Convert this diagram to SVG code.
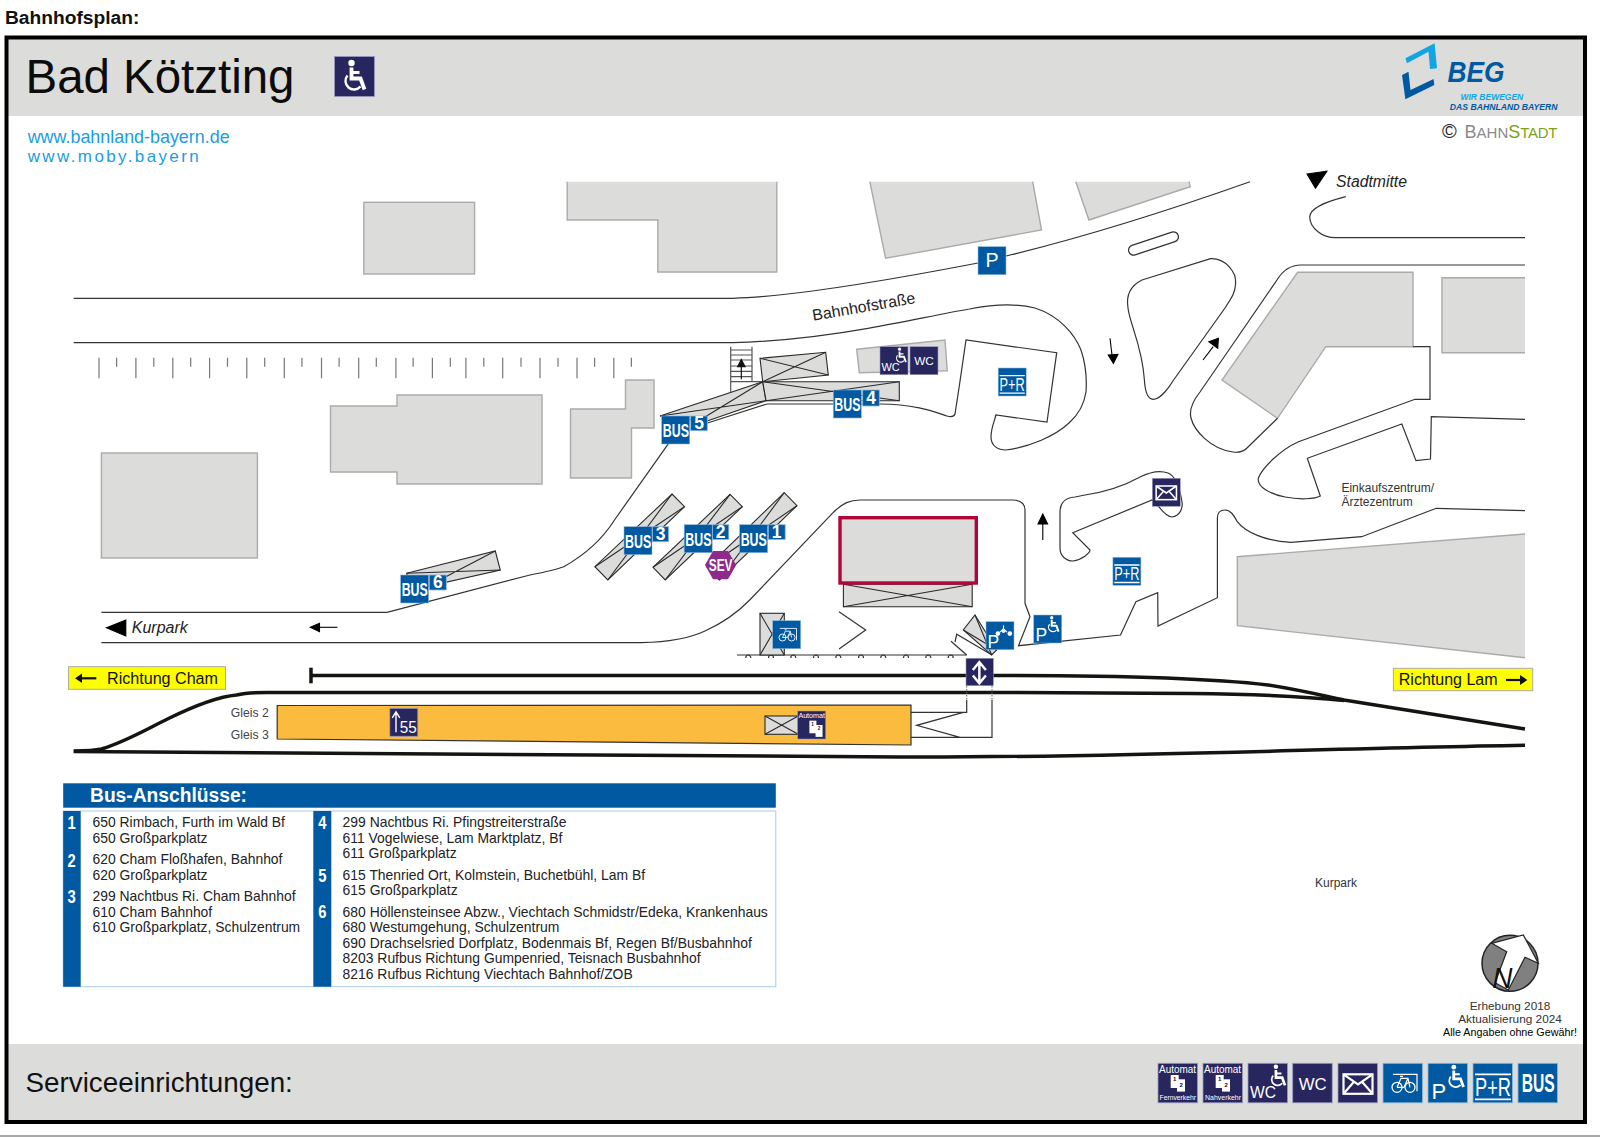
<svg xmlns="http://www.w3.org/2000/svg" width="1600" height="1139" viewBox="0 0 1600 1139">
<style>
text{font-family:"Liberation Sans",Arial,sans-serif}
.bld{fill:#dcdcdb;stroke:#aaa;stroke-width:1.4}
.shel{fill:#dcdcdb;stroke:#2a2a2a;stroke-width:1.1}
.rd{fill:none;stroke:#333;stroke-width:1.2}
.trk{fill:none;stroke:#141410;stroke-width:3.5}
.navy{fill:#28265f;stroke:#9a9ac0;stroke-width:.8}
.blue{fill:#0059a1;stroke:#8fb8dc;stroke-width:.8}
.w{fill:#fff}
.wl{fill:none;stroke:#fff}
.bus{fill:#fff;font-weight:700;font-size:27px}
.num{fill:#fff;font-weight:700;font-size:17.500px;text-anchor:middle}
.tb{fill:#222;font-size:13.900px}
.tn{fill:#fff;font-weight:700;font-size:18.500px}
.it{font-style:italic;font-size:16px;fill:#222}
.dir{fill:#111;font-size:16px}
.g{fill:#444;font-size:12.200px}
.yl{fill:#ffff00;stroke:#aaa;stroke-width:1}
.small{fill:#333;font-size:11.800px;text-anchor:middle}
</style>
<defs>
<symbol id="chair" viewBox="0 0 40 40">
<circle cx="17" cy="6.500" r="3.200" fill="#fff"/>
<path d="M17 11V22H26L30 33" fill="none" stroke="#fff" stroke-width="3.800"/>
<path d="M17 16H25" fill="none" stroke="#fff" stroke-width="2.800"/>
<path d="M13 19A8.500 8.500 0 1 0 26 30" fill="none" stroke="#fff" stroke-width="2.400"/>
</symbol>
<symbol id="bike" viewBox="0 0 40 40">
<path d="M10 11H34V28M14 24L18 15H25L27 24M14 24H21L25 15M17 13H20" fill="none" stroke="#fff" stroke-width="1.200"/>
<circle cx="14" cy="24" r="5" fill="none" stroke="#fff" stroke-width="1.300"/>
<circle cx="27" cy="24" r="5" fill="none" stroke="#fff" stroke-width="1.300"/>
</symbol>
<symbol id="mail" viewBox="0 0 40 40">
<rect x="5.500" y="11" width="29" height="19.500" fill="none" stroke="#fff" stroke-width="2.200"/>
<path d="M5.500 11L20 21L34.500 11M5.500 30.500L16 18.500M34.500 30.500L24 18.500" fill="none" stroke="#fff" stroke-width="2.200"/>
</symbol>
</defs>

<rect id="bg" width="1600" height="1139" fill="#fff"/>
<text x="5" y="23.500" font-size="19.200" font-weight="700" fill="#111">Bahnhofsplan:</text>

<g id="panel">
<rect x="8" y="39" width="1575" height="77" fill="#dcdcdb"/>
<rect x="8" y="1044" width="1575" height="77" fill="#dcdcdb"/>
<rect x="6.500" y="37.500" width="1578.500" height="1084.500" fill="none" stroke="#000" stroke-width="4"/>
<path d="M0 1136H1600" stroke="#a8a8a8" stroke-width="2"/>
</g>

<g id="title">
<text x="25.500" y="92.500" font-size="47.500" fill="#0c0c0c" textLength="269" lengthAdjust="spacingAndGlyphs">Bad Kötzting</text>
<g id="icon-access" transform="translate(334.500,56.500)"><rect width="40" height="40" class="navy"/><use href="#chair" width="40" height="40"/></g>
<text x="27.700" y="142.700" font-size="17.900" fill="#1b9de2">www.bahnland-bayern.de</text>
<text x="27.700" y="162" font-size="17" fill="#1b9de2" textLength="171" lengthAdjust="spacing">www.moby.bayern</text>
</g>

<g id="beg-logo">
<polygon points="1405.400,58.300 1434.600,43.300 1437,68.300 1430,69 1428.500,51.700 1407,63.300" fill="#12a5e4"/>
<polygon points="1402,75 1408.500,71.700 1410.500,90 1433.600,79 1434.300,85 1405.400,99.300" fill="#0059a1"/>
<text x="1447.400" y="81.700" font-size="29" font-weight="700" font-style="italic" fill="#0059a1" textLength="57" lengthAdjust="spacingAndGlyphs">BEG</text>
<text x="1460.500" y="100" font-size="8.500" font-weight="700" font-style="italic" fill="#12a5e4" textLength="62.700" lengthAdjust="spacingAndGlyphs">WIR BEWEGEN</text>
<text x="1449.800" y="110" font-size="8.500" font-weight="700" font-style="italic" fill="#0059a1" textLength="107.800" lengthAdjust="spacingAndGlyphs">DAS BAHNLAND BAYERN</text>
<text x="1442" y="138" font-size="20" fill="#222">©</text>
<text x="1464.600" y="137.500" fill="#8a8a8a" font-size="18">B<tspan font-size="15">AHN</tspan><tspan fill="#7ba11e">S</tspan><tspan fill="#7ba11e" font-size="15" letter-spacing="-.3">TADT</tspan></text>
</g>

<g id="buildings">
<rect class="bld" x="363.800" y="202.300" width="110.800" height="71.700"/>
<path class="bld" d="M567.200 181.700V220H657.800V272H776.800V181.700"/>
<path class="bld" d="M869.800 181.700L885.600 258.300L1041.500 230L1032.700 181.700"/>
<path class="bld" d="M1075.800 181.700L1088.900 220L1190.200 186.700L1189.100 181.700"/>
<polygon class="bld" points="1297.600,272.300 1413,272.300 1413,346.700 1325.800,346.700 1277.500,418.300 1222,380"/>
<path class="bld" d="M1525 277.700H1442V352.700H1525"/>
<path class="bld" d="M1525 534L1237.300 556.700V625.700L1525 657.700"/>
<polygon class="bld" points="330.500,406 397,406 397,395 542,395 542,484 397,484 397,472 330.500,472"/>
<polygon class="bld" points="570.500,409 625.500,409 625.500,380 654,380 654,428 631.500,428 631.500,478 570.500,478"/>
<rect class="bld" x="101.400" y="453" width="156" height="105"/>
<polygon class="bld" points="856.700,349.300 945,340 947.300,370.700 859.300,372.700"/>
</g>

<g id="ticks" fill="none" stroke="#777" stroke-width="1.200">
<path d="M99 357.700V378.300M135.900 357.700V378.300M172.800 357.700V378.300M209.600 357.700V378.300M246.800 357.700V378.300M284.300 357.700V378.300M321.500 357.700V378.300M358.700 357.700V378.300M395.900 357.700V378.300M432.400 357.700V378.300M465.900 357.700V378.300M502.700 357.700V378.300M540 357.700V378.300M577 357.700V378.300M613.800 357.700V378.300"/>
<path d="M116.600 357.700V366.700M153.800 357.700V366.700M190.700 357.700V366.700M227.500 357.700V366.700M264.700 357.700V366.700M301.900 357.700V366.700M339.100 357.700V366.700M376.300 357.700V366.700M413.100 357.700V366.700M450.300 357.700V366.700M483.800 357.700V366.700M521 357.700V366.700M558 357.700V366.700M594.600 357.700V366.700M631.400 357.700V366.700"/>
</g>

<g id="connectors">
<path class="rd" d="M73.700 298.300H733C790 297 900 278 978 263L1006 256C1060 243 1150 217 1250 181.700"/>
<path class="rd" d="M73.700 342.700H733C790 341 830 335 868 328.300C905 322 940 314 969.500 309C990 305 1015 303 1035 308C1060 316 1075 335 1081 350C1086 365 1087 378 1086 392C1084 405 1078 415 1069 423C1055 436 1030 447 1006 450C998 450 991 446 991 437C991 428 994 423 995.900 415L1047 422L1056.700 352.700L966 340L959.300 386L955 414C954 417 951 417 947 416C935 412 915 404 880 404H767L706.700 423.300"/>
<path class="rd" d="M668.600 443.300L614.500 520C605 535 590 552 563.800 566.700C555 570 540 573 530 575L387 612.300H101.400"/>
<path class="rd" d="M101.400 642.700H641.600C670 642 690 638 705 631C725 622 738 612 749.700 600L834 511.700C843 503 850 500 860 500H1012C1020 500 1025 503 1025 510V603.300L1030 616.700L1018.500 645.700L1120.500 635L1135.900 601.700L1157.700 592.700L1158 626L1217.400 597.700V518C1217.400 512 1220 510 1225 510C1231 510 1234 516 1237.300 521.700C1245 532 1265 541 1290.900 542.300L1361.700 536.700L1436.300 508.300L1525 510.700"/>
<path class="rd" d="M1525 265H1301C1290 265 1283 270 1277 280L1200 392C1192 402 1189 410 1191 418C1194 430 1210 449 1233 452C1240 453 1244 451 1247 448L1277.500 418.300"/>
<path class="rd" d="M1413 346.700H1430V399.300H1415L1298.500 441.700C1280 450 1262 468 1258.300 478.300C1257 487 1270 494 1285 497C1300 500 1315 499 1320.300 496L1307.300 458.300L1401.800 424L1416 460.700L1430.500 459L1431.300 416.700L1525 419.300"/>
<path class="rd" d="M1210.500 258.700C1225 258 1237 272 1235.600 284C1235 293 1232 297 1225 308L1173.600 380C1166 392 1160 399 1153 399.300C1147 399 1145 390 1144.400 380C1142 345 1130 325 1128 308C1126 296 1130 286 1142 280Z"/>
<rect class="rd" x="1127.500" y="238.500" width="52" height="10" rx="5" transform="rotate(-18.400 1153.500 243.500)"/>
<path class="rd" d="M1345.800 196.700C1325 202 1310 208 1309.700 217C1310 228 1322 237.700 1335.500 237.700H1525"/>
<path class="rd" d="M1072.700 532.700L1152 500L1158.800 506.700C1163 512 1168 517 1172 517C1180 516 1183 508 1182 502C1180 490 1176 476 1168 473C1160 470 1150 472 1140 477C1122 487 1105 492 1085 495L1075 497C1064 498 1060 503 1060 512V548C1060 556 1066 561 1073 561C1082 560 1090 553 1090 550Z"/>
<path class="rd" d="M737 655H966.700M839 611.700L865.700 630L839 649"/>
<path class="rd" d="M745.800 658A2.500 3 0 0 1 750.800 658M768.500 658A2.500 3 0 0 1 773.500 658M790.800 658A2.500 3 0 0 1 795.800 658M813.500 658A2.500 3 0 0 1 818.500 658M835.800 658A2.500 3 0 0 1 840.800 658M858.500 658A2.500 3 0 0 1 863.500 658M880.800 658A2.500 3 0 0 1 885.800 658M903.500 658A2.500 3 0 0 1 908.500 658M925.800 658A2.500 3 0 0 1 930.800 658M948.200 658A2.500 3 0 0 1 953.200 658"/>
<path class="rd" d="M951 641.300L966.700 655M955 642L956.700 634.300L992 655"/>
<path class="trk" d="M311 675.500H1000C1100 675.500 1200 677 1268 685C1300 690 1320 695 1344 700L1525 729"/>
<path class="trk" d="M73.700 751C85 751 95 750.500 101.400 749C125 742 145 730 169 718.300C190 708 215 697 236.600 695C245 693 255 692.500 267 692.500H1000L1191 693.500C1240 694 1300 696 1344 700.500"/>
<path class="trk" d="M73.700 751.500C300 751.500 600 755 900 757C1100 758 1300 749 1525 745.300"/>
<path d="M311 667.700V683.300" fill="none" stroke="#141410" stroke-width="3.500"/>
<path d="M966.700 686V700M992 686V700" fill="none" stroke="#666" stroke-width="1" stroke-dasharray="1.500 1.500"/>
<path class="rd" d="M910.700 712.300H966.700V700M992 700V737.300H910.700M963.300 712.300L916.700 725.300L960 737.300"/>
</g>

<g id="arrows" fill="#000" stroke="#000" stroke-width="1.100">
<path d="M1110 338.300L1112 355" fill="none"/><polygon points="1108.200,355 1117.900,354.300 1113.400,363.300"/>
<path d="M1203 360L1213.200 346.700" fill="none"/><polygon points="1208.800,341.700 1218.400,338.300 1217.700,348.300"/>
<path d="M1042.800 540V524" fill="none"/><polygon points="1038,524 1047.600,524 1042.800,514"/>
<path d="M337.400 627.300H319.500" fill="none"/><polygon points="310.300,627.300 319.500,623.300 319.500,631.700"/>
<polygon points="1307,174 1326.900,171.300 1315.500,188.300"/>
<polygon points="106.500,627.700 125.800,620 125.800,636"/>
</g>

<text x="1336" y="186.700" class="it" textLength="71" lengthAdjust="spacingAndGlyphs">Stadtmitte</text>
<text x="131.800" y="633.300" class="it" textLength="56" lengthAdjust="spacingAndGlyphs">Kurpark</text>
<text x="813.300" y="320.700" font-size="15.900" fill="#222" transform="rotate(-9.700 813.300 320.700)">Bahnhofstraße</text>
<text x="1341.400" y="492" font-size="12" fill="#333">Einkaufszentrum/</text>
<text x="1341.400" y="506" font-size="12" fill="#333">Ärztezentrum</text>
<text x="1315" y="887" font-size="12" fill="#333">Kurpark</text>

<g id="shelters">
<g id="stairs"><path d="M730.700 346.700V391.700M752 346.700V381.700H762.700M731 350H752M731 355H752M731 360H752M731 366H752M731 371.300H752M731 376.700H752M731 381.700H752" fill="none" stroke="#555" stroke-width="1.200"/><polygon points="741.300,358.300 746,367.300 736.700,367.300" fill="#111"/><path d="M741.300 367V379.300" stroke="#111" stroke-width="1.200"/></g>
<g id="shelter-top"><polygon class="shel" points="760,358.300 825.700,352.300 828.300,375 762.700,381.700"/><path class="shel" d="M760 358.300L828.300 375M825.700 352.300L762.700 381.700"/></g>
<g id="shelter-5"><polygon class="shel" points="660,416 762.700,381.700 766,400.700 705,421.700"/><path class="shel" d="M660 416L766 400.700M762.700 381.700L700 420"/></g>
<g id="shelter-4"><polygon class="shel" points="762.700,381.700 899.300,381.700 899.300,400.700 766,400.700"/><path class="shel" d="M762.700 381.700L899.300 400.700M766 400.700L899.300 381.700"/></g>
<g id="shelter-3"><polygon class="shel" points="672,494 684.500,506.700 607.800,580 594.900,566.700"/><path class="shel" d="M672 494L607.800 580M684.500 506.700L594.900 566.700"/></g>
<g id="shelter-2"><polygon class="shel" points="730.100,494.300 742.300,506.700 665.200,580 653,567.300"/><path class="shel" d="M730.100 494.300L665.200 580M742.300 506.700L653 567.300"/></g>
<g id="shelter-1"><polygon class="shel" points="784.200,492.700 797,505.700 719.300,580 707,567.300"/><path class="shel" d="M784.200 492.700L719.300 580M797 505.700L707 567.300"/></g>
<g id="shelter-6"><polygon class="shel" points="406.700,573.300 495.300,551 500.300,570 411,590"/><path class="shel" d="M406.700 573.300L500.300 570M495.300 551L430 585"/></g>
<g id="station"><polygon class="shel" points="843.400,584.300 972.200,584.300 972.200,606.700 843.400,606.700"/><path class="shel" d="M843.400 584.300L972.200 606.700M972.200 584.300L843.400 606.700"/><rect x="840" y="517.700" width="136.300" height="65.300" fill="#dcdcdb" stroke="#b0063a" stroke-width="3.400"/></g>
<g id="shelter-bike"><rect class="shel" x="760" y="613.300" width="24.300" height="41.700"/><path class="shel" d="M760 613.300L784.300 655M784.300 613.300L760 655"/></g>
<g id="shelter-moto"><polygon class="shel" points="975,615 996.700,650 991.700,655 963.300,630"/><path class="shel" d="M975 615L991.700 655M963.300 630L996.700 650"/></g>
</g>

<g id="platform">
<polygon points="277.200,705.500 911,705 911,745 277.200,739" fill="#fbbb3f" stroke="#333" stroke-width="1.200"/>
<rect class="shel" x="765" y="716" width="33.300" height="18.300"/><path class="shel" d="M765 716L798.300 734.300M798.300 716L765 734.300"/>
<text x="268.800" y="716.700" class="g" text-anchor="end">Gleis 2</text>
<text x="268.800" y="738.700" class="g" text-anchor="end">Gleis 3</text>
</g>

<g id="sign-55" transform="translate(389.800,708.300)"><rect width="28" height="28" class="navy"/><path class="wl" stroke-width="1.400" d="M6.200 24V4M2.500 9.500L6.200 3.500L10 9.500"/><text x="10" y="24.400" font-size="17" class="w" textLength="17" lengthAdjust="spacingAndGlyphs">55</text></g>

<g id="sign-automat-platform" transform="translate(797.700,711) scale(.7)"><rect width="40" height="40" class="navy"/><text x="1" y="9.500" font-size="10" class="w" textLength="38" lengthAdjust="spacingAndGlyphs">Automat</text><rect x="16.700" y="13.800" width="10" height="18" fill="#fff"/><rect x="25.500" y="20" width="10" height="17" fill="#fff"/><text x="19.500" y="21" font-size="6.500" font-weight="700" fill="#111">1</text><text x="28.500" y="27" font-size="6.500" font-weight="700" fill="#111">2</text></g>

<g id="sign-underpass" transform="translate(966,658.300) scale(.685)"><rect width="40" height="40" class="navy"/><path class="wl" stroke-width="3.600" d="M10 17L19.500 5.500L29 17M10 25L19.500 36.500L29 25M19.500 7V35"/></g>

<g id="sign-bike" transform="translate(772.700,620.700) scale(.7)"><rect width="40" height="40" class="blue"/><use href="#bike" width="40" height="40"/></g>
<g id="sign-moto" transform="translate(986,621.700) scale(.7)"><rect width="40" height="40" class="blue"/><text x="2" y="37" font-size="25" class="w">P</text><circle cx="17" cy="17" r="3.300" class="w"/><circle cx="34" cy="17" r="3.300" class="w"/><circle cx="25" cy="13.500" r="2.600" class="w"/><path d="M20 15L25 10L30 15M25 5V10" fill="none" stroke="#fff" stroke-width="1.600"/></g>
<g id="sign-pd" transform="translate(1033.700,615) scale(.7)"><rect width="40" height="40" class="blue"/><text x="2.500" y="37" font-size="25" class="w">P</text><use href="#chair" x="13" y="-1" width="30" height="30"/></g>
<g id="sign-p" transform="translate(978,246.700) scale(.7)"><rect width="40" height="40" class="blue"/><text x="20" y="29.500" font-size="28" text-anchor="middle" class="w">P</text></g>
<g id="sign-pr1" transform="translate(998.200,368) scale(.7)"><rect width="40" height="40" class="blue"/><path class="wl" stroke-width="1.800" d="M2 11H38M2 36H38"/><text x="2" y="33" font-size="25" class="w" textLength="36" lengthAdjust="spacingAndGlyphs">P+R</text></g>
<g id="sign-pr2" transform="translate(1112.900,557.300) scale(.7)"><rect width="40" height="40" class="blue"/><path class="wl" stroke-width="1.800" d="M2 11H38M2 36H38"/><text x="2" y="33" font-size="25" class="w" textLength="36" lengthAdjust="spacingAndGlyphs">P+R</text></g>
<g id="sign-mail" transform="translate(1152.300,478.300) scale(.7)"><rect width="40" height="40" class="navy"/><use href="#mail" width="40" height="40"/></g>
<g id="sign-wcd" transform="translate(880,346.700) scale(.7)"><rect width="40" height="40" class="navy"/><text x="2" y="35" font-size="15.600" class="w">WC</text><use href="#chair" x="16" y="-1" width="28" height="28"/></g>
<g id="sign-wc" transform="translate(910,346.700) scale(.7)"><rect width="40" height="40" class="navy"/><text x="20" y="26.700" font-size="16.800" text-anchor="middle" class="w">WC</text></g>

<g id="bus-1"><g transform="translate(739.600,524.700) scale(.7)"><rect width="40" height="40" class="blue"/><text transform="translate(1.500,30) scale(.656,1)" class="bus">BUS</text></g><rect x="768.300" y="524.700" width="16.900" height="14.800" class="blue"/><text x="776.700" y="538" class="num">1</text></g>
<g id="bus-2"><g transform="translate(684.200,524.700) scale(.7)"><rect width="40" height="40" class="blue"/><text transform="translate(1.500,30) scale(.656,1)" class="bus">BUS</text></g><rect x="712.600" y="524.700" width="16.200" height="14.800" class="blue"/><text x="720.700" y="538" class="num">2</text></g>
<g id="bus-3"><g transform="translate(624,526.700) scale(.7)"><rect width="40" height="40" class="blue"/><text transform="translate(1.500,30) scale(.656,1)" class="bus">BUS</text></g><rect x="652.400" y="526.700" width="16.200" height="15" class="blue"/><text x="660.500" y="540" class="num">3</text></g>
<g id="bus-4"><g transform="translate(833.300,390) scale(.7)"><rect width="40" height="40" class="blue"/><text transform="translate(1.500,30) scale(.656,1)" class="bus">BUS</text></g><rect x="862.700" y="390" width="16.600" height="16" class="blue"/><text x="871" y="404" class="num">4</text></g>
<g id="bus-5"><g transform="translate(661.700,416) scale(.7)"><rect width="40" height="40" class="blue"/><text transform="translate(1.500,30) scale(.656,1)" class="bus">BUS</text></g><rect x="690.700" y="416" width="16.600" height="14.700" class="blue"/><text x="699" y="429.300" class="num">5</text></g>
<g id="bus-6"><g transform="translate(400.600,575) scale(.7)"><rect width="40" height="40" class="blue"/><text transform="translate(1.500,30) scale(.656,1)" class="bus">BUS</text></g><rect x="429.300" y="575" width="17" height="15" class="blue"/><text x="437.800" y="588.300" class="num">6</text></g>
<g id="sev"><polygon points="705,565 713,551 728,551 736.200,565 728,579.300 713,579.300" fill="#8f2a8a"/><text transform="translate(708.700,571) scale(.7,1)" font-size="17" font-weight="700" class="w">SEV</text></g>

<g id="dir-cham"><rect class="yl" x="68.600" y="666.700" width="156.900" height="22.600"/><path d="M96.300 678.300H80" stroke="#111" stroke-width="2.200"/><polygon points="75,678.300 82,673.500 82,683" fill="#111"/><text x="107" y="684" class="dir" textLength="111" lengthAdjust="spacingAndGlyphs">Richtung Cham</text></g>
<g id="dir-lam"><rect class="yl" x="1393.400" y="668.300" width="139.300" height="22.400"/><path d="M1506 680H1522" stroke="#111" stroke-width="2.200"/><polygon points="1527.400,680 1520,675 1520,685" fill="#111"/><text x="1398.800" y="685" class="dir" textLength="98.700" lengthAdjust="spacingAndGlyphs">Richtung Lam</text></g>

<g id="bus-table">
<rect x="63.200" y="811" width="712.600" height="175.700" fill="#fff" stroke="#a9cbe8" stroke-width="1"/>
<rect x="63.200" y="783.300" width="712.600" height="24.400" fill="#0059a1"/>
<rect x="63.200" y="811" width="17.500" height="175.700" fill="#0059a1"/>
<rect x="313.300" y="811" width="18" height="175.700" fill="#0059a1"/>
<text x="90" y="802.300" font-size="20" font-weight="700" fill="#fff" textLength="157" lengthAdjust="spacingAndGlyphs">Bus-Anschlüsse:</text>
<text transform="translate(67.500,829.300) scale(.8,1)" class="tn">1</text><text transform="translate(67.500,866.700) scale(.8,1)" class="tn">2</text><text transform="translate(67.500,902.700) scale(.8,1)" class="tn">3</text>
<text transform="translate(318.200,829.300) scale(.8,1)" class="tn">4</text><text transform="translate(318.200,881.700) scale(.8,1)" class="tn">5</text><text transform="translate(318.200,918.300) scale(.8,1)" class="tn">6</text>
<text x="92.500" y="827.300" class="tb">650 Rimbach, Furth im Wald Bf</text>
<text x="92.500" y="843.300" class="tb">650 Großparkplatz</text>
<text x="92.500" y="863.700" class="tb">620 Cham Floßhafen, Bahnhof</text>
<text x="92.500" y="880" class="tb">620 Großparkplatz</text>
<text x="92.500" y="900.700" class="tb">299 Nachtbus Ri. Cham Bahnhof</text>
<text x="92.500" y="916.700" class="tb">610 Cham Bahnhof</text>
<text x="92.500" y="932.300" class="tb">610 Großparkplatz, Schulzentrum</text>
<text x="342.600" y="827.300" class="tb">299 Nachtbus Ri. Pfingstreiterstraße</text>
<text x="342.600" y="842.700" class="tb">611 Vogelwiese, Lam Marktplatz, Bf</text>
<text x="342.600" y="858.300" class="tb">611 Großparkplatz</text>
<text x="342.600" y="880" class="tb">615 Thenried Ort, Kolmstein, Buchetbühl, Lam Bf</text>
<text x="342.600" y="895" class="tb">615 Großparkplatz</text>
<text x="342.600" y="916.700" class="tb">680 Höllensteinsee Abzw., Viechtach Schmidstr/Edeka, Krankenhaus</text>
<text x="342.600" y="932.300" class="tb">680 Westumgehung, Schulzentrum</text>
<text x="342.600" y="948" class="tb">690 Drachselsried Dorfplatz, Bodenmais Bf, Regen Bf/Busbahnhof</text>
<text x="342.600" y="963.300" class="tb">8203 Rufbus Richtung Gumpenried, Teisnach Busbahnhof</text>
<text x="342.600" y="979" class="tb">8216 Rufbus Richtung Viechtach Bahnhof/ZOB</text>
</g>

<g id="compass">
<circle cx="1510" cy="963.300" r="28" fill="#808080" stroke="#222" stroke-width="1.500"/>
<polygon points="1491.700,943.300 1523.300,935 1538.300,963.300 1525,957.300 1508.300,990 1495,982.700 1506.700,951.700" fill="#fff" stroke="#222" stroke-width="1.200"/>
<text transform="translate(1492.500,988) scale(.92,1)" font-size="30" font-style="italic" fill="#111">N</text>
</g>
<g id="credits">
<text x="1510" y="1010" class="small">Erhebung 2018</text>
<text x="1510" y="1023.300" class="small">Aktualisierung 2024</text>
<text x="1510" y="1036" class="small" style="fill:#000" textLength="134" lengthAdjust="spacingAndGlyphs">Alle Angaben ohne Gewähr!</text>
</g>

<g id="legend">
<text x="25.500" y="1092" font-size="27.800" fill="#111">Serviceeinrichtungen:</text>
<g id="leg-fern" transform="translate(1158,1063.300)"><rect width="39.500" height="39.500" class="navy"/><text x="1" y="10" font-size="10" class="w" textLength="37" lengthAdjust="spacingAndGlyphs">Automat</text><rect x="12.700" y="11.700" width="8" height="13" fill="#fff"/><rect x="19" y="16" width="8" height="12.300" fill="#fff"/><text x="15" y="18" font-size="6" font-weight="700" fill="#111">1</text><text x="21.500" y="23.500" font-size="6" font-weight="700" fill="#111">2</text><text x="1.500" y="37" font-size="7" class="w" textLength="36.500" lengthAdjust="spacingAndGlyphs">Fernverkehr</text></g>
<g id="leg-nah" transform="translate(1203,1063.300)"><rect width="39.500" height="39.500" class="navy"/><text x="1" y="10" font-size="10" class="w" textLength="37" lengthAdjust="spacingAndGlyphs">Automat</text><rect x="12.700" y="11.700" width="8" height="13" fill="#fff"/><rect x="19" y="16" width="8" height="12.300" fill="#fff"/><text x="15" y="18" font-size="6" font-weight="700" fill="#111">1</text><text x="21.500" y="23.500" font-size="6" font-weight="700" fill="#111">2</text><text x="2" y="37" font-size="7" class="w" textLength="36" lengthAdjust="spacingAndGlyphs">Nahverkehr</text></g>
<g id="leg-wcd" transform="translate(1248,1063.300)"><rect width="39.500" height="39.500" class="navy"/><text x="2" y="35" font-size="15.600" class="w">WC</text><use href="#chair" x="16" y="-1" width="28" height="28"/></g>
<g id="leg-wc" transform="translate(1292.700,1063.300)"><rect width="39.500" height="39.500" class="navy"/><text x="20" y="26.700" font-size="16.800" text-anchor="middle" class="w">WC</text></g>
<g id="leg-mail" transform="translate(1338,1063.300)"><rect width="39.500" height="39.500" class="navy"/><use href="#mail" width="40" height="40"/></g>
<g id="leg-bike" transform="translate(1383,1063.300)"><rect width="39.500" height="39.500" class="blue"/><use href="#bike" width="40" height="40"/></g>
<g id="leg-pd" transform="translate(1428,1063.300)"><rect width="39.500" height="39.500" class="blue"/><text x="3.500" y="35.500" font-size="22" class="w">P</text><use href="#chair" x="13" y="-1" width="30" height="30"/></g>
<g id="leg-pr" transform="translate(1473,1063.300)"><rect width="39.500" height="39.500" class="blue"/><path class="wl" stroke-width="1.800" d="M2 11H38M2 36H38"/><text x="2" y="33" font-size="25" class="w" textLength="36" lengthAdjust="spacingAndGlyphs">P+R</text></g>
<g id="leg-bus" transform="translate(1518,1063.300)"><rect width="39.500" height="39.500" class="blue"/><text transform="translate(3.700,28.300) scale(.625,1)" font-size="25" font-weight="700" class="w">BUS</text></g>
</g>
</svg>
